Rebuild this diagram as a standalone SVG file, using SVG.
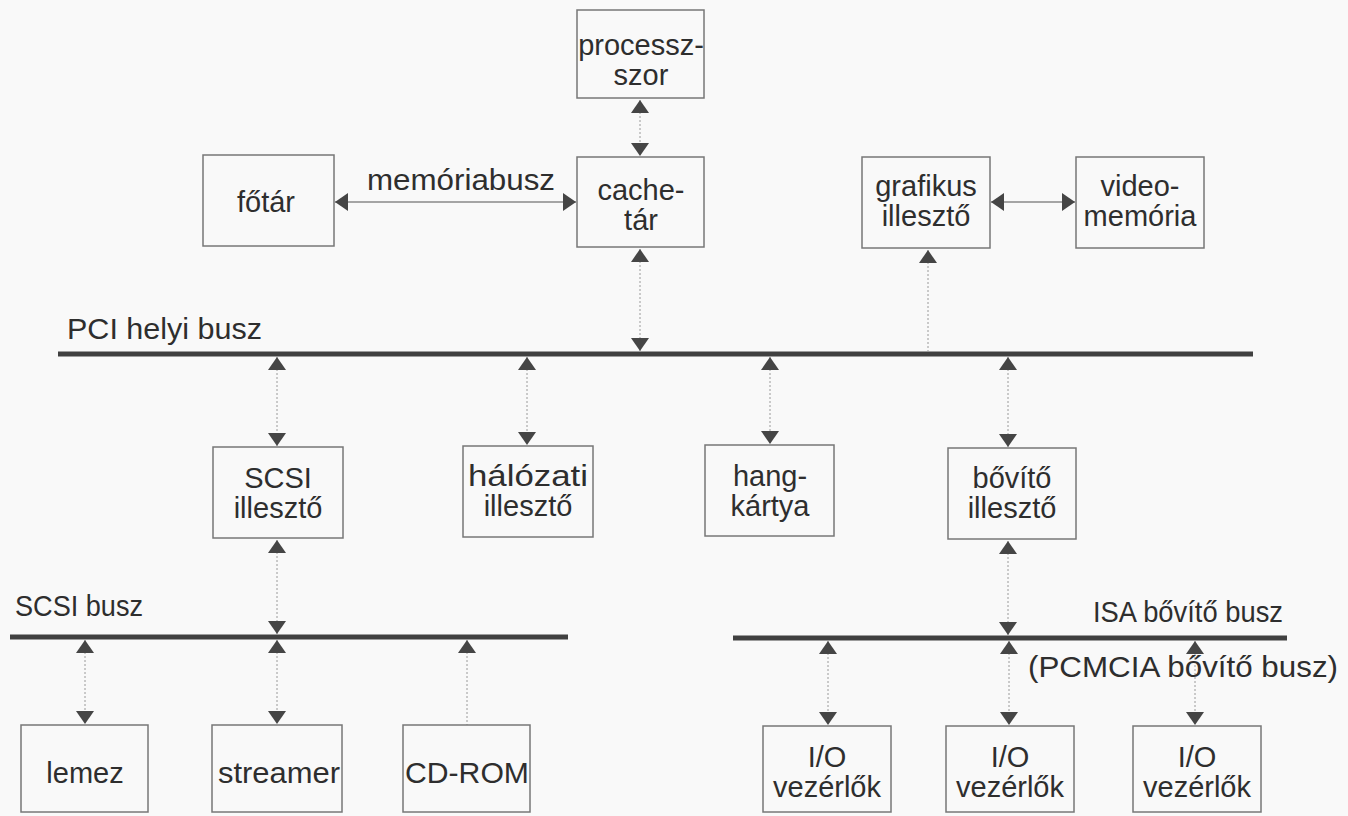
<svg xmlns="http://www.w3.org/2000/svg" width="1348" height="816" viewBox="0 0 1348 816">
  <defs>
    <marker id="tip" viewBox="0 0 13 18" refX="13" refY="9" markerWidth="13" markerHeight="18" markerUnits="userSpaceOnUse" orient="auto-start-reverse">
      <path d="M0,0 L13,9 L0,18 z" fill="#454545"/>
    </marker>
    <style>
      .box { fill: none; stroke: #777; stroke-width: 1.5; }
      .lbl { font-family: "Liberation Sans", Arial, sans-serif; font-size: 29px; fill: #2e2e2e; text-anchor: middle; }
      .bus-lbl { font-family: "Liberation Sans", Arial, sans-serif; font-size: 29px; fill: #2e2e2e; }
      .bus { stroke: #404040; stroke-width: 5; stroke-linecap: butt; }
      .link { stroke: #9a9a9a; stroke-width: 1; stroke-dasharray: 2 2; fill: none; }
      .hlink { stroke: #888; stroke-width: 1.5; fill: none; }
    </style>
  </defs>

  <rect width="1348" height="816" fill="#f9f9f9"/>

  <!-- buses -->
  <g id="buses">
    <line class="bus" x1="58" y1="354" x2="1253" y2="354"/>
    <line class="bus" x1="10" y1="637" x2="568" y2="637"/>
    <line class="bus" x1="733" y1="638" x2="1287" y2="638"/>
    <text class="bus-lbl" x="67" y="339" textLength="195" lengthAdjust="spacingAndGlyphs">PCI helyi busz</text>
    <text class="bus-lbl" x="15" y="616" textLength="128" lengthAdjust="spacingAndGlyphs">SCSI busz</text>
    <text class="bus-lbl" x="1093" y="622" textLength="190" lengthAdjust="spacingAndGlyphs">ISA bővítő busz</text>
  </g>

  <!-- connectors -->
  <g id="connectors">
    <line class="hlink" x1="335" y1="202" x2="576" y2="202" marker-start="url(#tip)" marker-end="url(#tip)"/>
    <line class="hlink" x1="991" y1="202" x2="1075" y2="202" marker-start="url(#tip)" marker-end="url(#tip)"/>

    <line class="link" x1="640" y1="100" x2="640" y2="156" marker-start="url(#tip)" marker-end="url(#tip)"/>
    <line class="link" x1="640" y1="249" x2="640" y2="351" marker-start="url(#tip)" marker-end="url(#tip)"/>
    <line class="link" x1="928" y1="250" x2="928" y2="354" marker-start="url(#tip)"/>

    <line class="link" x1="277" y1="357" x2="277" y2="446" marker-start="url(#tip)" marker-end="url(#tip)"/>
    <line class="link" x1="527" y1="357" x2="527" y2="445" marker-start="url(#tip)" marker-end="url(#tip)"/>
    <line class="link" x1="770" y1="357" x2="770" y2="444" marker-start="url(#tip)" marker-end="url(#tip)"/>
    <line class="link" x1="1008" y1="357" x2="1008" y2="447" marker-start="url(#tip)" marker-end="url(#tip)"/>

    <line class="link" x1="277" y1="540" x2="277" y2="634" marker-start="url(#tip)" marker-end="url(#tip)"/>
    <line class="link" x1="1008" y1="541" x2="1008" y2="635" marker-start="url(#tip)" marker-end="url(#tip)"/>

    <line class="link" x1="85" y1="640" x2="85" y2="724" marker-start="url(#tip)" marker-end="url(#tip)"/>
    <line class="link" x1="277" y1="640" x2="277" y2="724" marker-start="url(#tip)" marker-end="url(#tip)"/>
    <line class="link" x1="467" y1="640" x2="467" y2="725" marker-start="url(#tip)"/>

    <line class="link" x1="828" y1="641" x2="828" y2="725" marker-start="url(#tip)" marker-end="url(#tip)"/>
    <line class="link" x1="1009" y1="641" x2="1009" y2="725" marker-start="url(#tip)" marker-end="url(#tip)"/>
    <line class="link" x1="1195" y1="641" x2="1195" y2="725" marker-start="url(#tip)" marker-end="url(#tip)"/>

    <text class="lbl" x="461" y="190" textLength="188" lengthAdjust="spacingAndGlyphs">memóriabusz</text>
    <text class="bus-lbl" x="1028" y="677" textLength="310" lengthAdjust="spacingAndGlyphs">(PCMCIA bővítő busz)</text>
  </g>

  <!-- nodes -->
  <g id="processzor">
    <rect class="box" x="577" y="10" width="127" height="88"/>
    <text class="lbl" x="641" y="55">processz-</text>
    <text class="lbl" x="641" y="85">szor</text>
  </g>
  <g id="cachetar">
    <rect class="box" x="577" y="157" width="127" height="90"/>
    <text class="lbl" x="641" y="200">cache-</text>
    <text class="lbl" x="641" y="230">tár</text>
  </g>
  <g id="fotar">
    <rect class="box" x="203" y="155" width="131" height="91"/>
    <text class="lbl" x="266" y="212">főtár</text>
  </g>
  <g id="grafikus">
    <rect class="box" x="862" y="157" width="128" height="91"/>
    <text class="lbl" x="926" y="196">grafikus</text>
    <text class="lbl" x="926" y="226">illesztő</text>
  </g>
  <g id="videomemoria">
    <rect class="box" x="1076" y="157" width="128" height="91"/>
    <text class="lbl" x="1140" y="196">video-</text>
    <text class="lbl" x="1140" y="226">memória</text>
  </g>
  <g id="scsi-illeszto">
    <rect class="box" x="213" y="447" width="130" height="91"/>
    <text class="lbl" x="278" y="488">SCSI</text>
    <text class="lbl" x="278" y="518">illesztő</text>
  </g>
  <g id="halozati-illeszto">
    <rect class="box" x="463" y="446" width="130" height="91"/>
    <text class="lbl" x="528" y="486" textLength="120" lengthAdjust="spacingAndGlyphs">hálózati</text>
    <text class="lbl" x="528" y="516">illesztő</text>
  </g>
  <g id="hangkartya">
    <rect class="box" x="705" y="445" width="129" height="91"/>
    <text class="lbl" x="770" y="486">hang-</text>
    <text class="lbl" x="770" y="516">kártya</text>
  </g>
  <g id="bovito-illeszto">
    <rect class="box" x="948" y="448" width="128" height="91"/>
    <text class="lbl" x="1012" y="488">bővítő</text>
    <text class="lbl" x="1012" y="518">illesztő</text>
  </g>
  <g id="lemez">
    <rect class="box" x="21" y="725" width="127" height="87"/>
    <text class="lbl" x="85" y="783">lemez</text>
  </g>
  <g id="streamer">
    <rect class="box" x="212" y="725" width="130" height="87"/>
    <text class="lbl" x="279" y="783" textLength="122" lengthAdjust="spacingAndGlyphs">streamer</text>
  </g>
  <g id="cdrom">
    <rect class="box" x="403" y="725" width="127" height="87"/>
    <text class="lbl" x="467" y="783" textLength="124" lengthAdjust="spacingAndGlyphs">CD-ROM</text>
  </g>
  <g id="io-1">
    <rect class="box" x="763" y="726" width="128" height="86"/>
    <text class="lbl" x="827" y="767">I/O</text>
    <text class="lbl" x="827" y="797">vezérlők</text>
  </g>
  <g id="io-2">
    <rect class="box" x="946" y="726" width="128" height="86"/>
    <text class="lbl" x="1010" y="767">I/O</text>
    <text class="lbl" x="1010" y="797">vezérlők</text>
  </g>
  <g id="io-3">
    <rect class="box" x="1133" y="726" width="128" height="86"/>
    <text class="lbl" x="1197" y="767">I/O</text>
    <text class="lbl" x="1197" y="797">vezérlők</text>
  </g>
</svg>
